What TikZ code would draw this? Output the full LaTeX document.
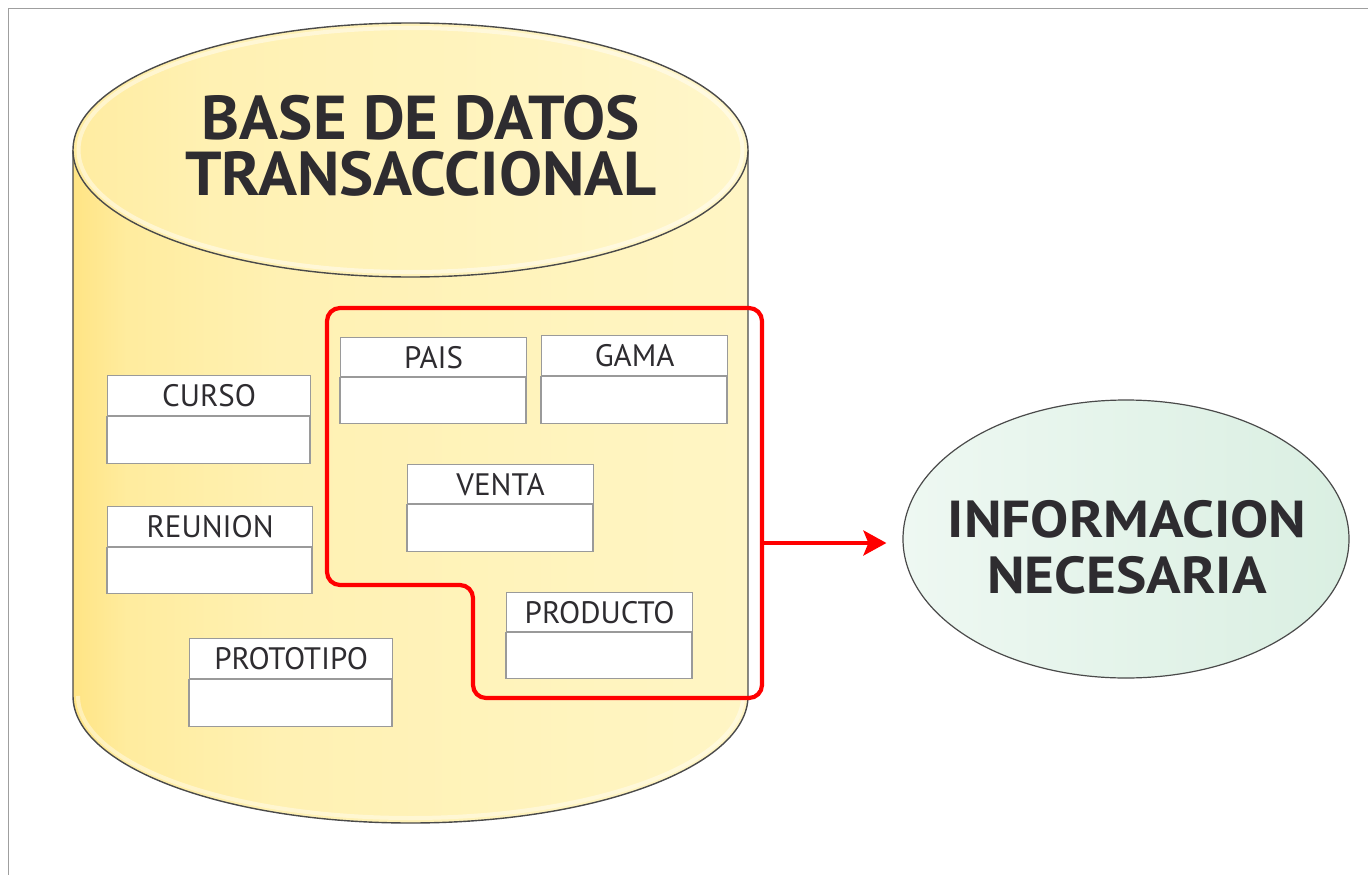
\documentclass[tikz,border=0pt]{standalone}
\usepackage{fontspec}
\setmainfont{PT Sans}
\usetikzlibrary{shapes.geometric,arrows.meta}
\definecolor{txt}{HTML}{2E2C30}
\definecolor{boxln}{HTML}{9A9A9A}
\definecolor{cylline}{HTML}{4A4A4A}
\definecolor{infoL}{HTML}{EEF8F2}
\definecolor{infoR}{HTML}{DAEFE2}
\pgfdeclarehorizontalshading{cylsh}{100bp}{
  rgb(0bp)=(1,0.895,0.52); rgb(25bp)=(1,0.895,0.52); rgb(29bp)=(1,0.925,0.62);
  rgb(40bp)=(1,0.945,0.70); rgb(75bp)=(1,0.962,0.77); rgb(100bp)=(1,0.962,0.77)}
\pgfdeclarehorizontalshading{topsh}{100bp}{
  rgb(0bp)=(1,0.925,0.63); rgb(25bp)=(1,0.925,0.63); rgb(35bp)=(1,0.945,0.70);
  rgb(75bp)=(1,0.965,0.79); rgb(100bp)=(1,0.965,0.79)}
\tikzset{
  hdr/.style={draw=boxln, line width=1.3pt, fill=white, anchor=north west, inner sep=0pt,
    minimum height=40pt, text=txt, font=\fontsize{31}{34}\selectfont},
  bodybox/.style={draw=boxln, line width=1.3pt, fill=white},
  redline/.style={draw=red, line width=4.2pt},
}
\begin{document}
\begin{tikzpicture}[x=1pt,y=-1pt]
\useasboundingbox (0,0) rectangle (1368,875);
\fill[white] (0,0) rectangle (1368,875);
\draw[gray!75, line width=1.6pt] (8.5,875) -- (8.5,8.5) -- (1368,8.5);
% cylinder body
\shade[shading=cylsh]
  (73,150) -- (73,696) arc[start angle=180, end angle=360, x radius=337.5pt, y radius=127pt] -- (748,150) -- cycle;
\draw[white, opacity=0.4, line width=4pt]
  (78,696) arc[start angle=180, end angle=360, x radius=332.5pt, y radius=122pt];
\draw[cylline, line width=1.4pt]
  (73,150) -- (73,696) arc[start angle=180, end angle=360, x radius=337.5pt, y radius=127pt] -- (748,150);
% top ellipse
\shade[shading=topsh] (410.5,150) ellipse [x radius=337.5pt, y radius=127pt];
\draw[white, opacity=0.45, line width=4pt] (410.5,150) ellipse [x radius=332pt, y radius=122pt];
\draw[cylline, line width=1.4pt] (410.5,150) ellipse [x radius=337.5pt, y radius=127pt];
\node[text=txt, font=\bfseries\fontsize{62}{56}\selectfont, align=center] (title) at (421,146)
  {\scalebox{1.04}[1]{BASE DE DATOS}\\\scalebox{1.04}[1]{TRANSACCIONAL}};
% red selection
\draw[redline, rounded corners=13pt] (500,308) -- (762,308) -- (762,698) -- (473,698) -- (473,585)
  -- (327,585) -- (327,308) -- cycle;
% tables
\node[hdr, minimum width=203pt] (curso) at (107,375) {CURSO};
\draw[bodybox] (curso.south west) rectangle ++(203,47);
\node[hdr, minimum width=205pt] (reunion) at (107,506) {REUNION};
\draw[bodybox] (reunion.south west) rectangle ++(205,46);
\node[hdr, minimum width=203pt] (prototipo) at (189,638) {PROTOTIPO};
\draw[bodybox] (prototipo.south west) rectangle ++(203,47);
\node[hdr, minimum width=186pt, minimum height=39pt] (pais) at (340,337) {PAIS};
\draw[bodybox] (pais.south west) rectangle ++(186,46);
\node[hdr, minimum width=186pt] (gama) at (541,335) {GAMA};
\draw[bodybox] (gama.south west) rectangle ++(186,47);
\node[hdr, minimum width=186pt, minimum height=39pt] (venta) at (407,464) {VENTA};
\draw[bodybox] (venta.south west) rectangle ++(186,47);
\node[hdr, minimum width=186pt, minimum height=39pt] (producto) at (506,592) {PRODUCTO};
\draw[bodybox] (producto.south west) rectangle ++(186,46);
% info ellipse
\node[ellipse, draw=cylline, line width=1.2pt, minimum width=446pt, minimum height=278pt,
  left color=infoL, right color=infoR, inner sep=0pt] (info) at (1126,539) {};
\node[text=txt, align=center, font=\bfseries\fontsize{52}{56}\selectfont] (infotext) at (1127,547)
  {\scalebox{1.1}[1]{INFORMACION}\\\scalebox{1.1}[1]{NECESARIA}};
% arrow
\coordinate (redR) at (762,543);
\draw[red, line width=3.8pt, -{Stealth[length=23pt, width=25pt, inset=5pt]}, shorten >=16pt]
  (redR) -- (redR -| info.west);
\end{tikzpicture}
\end{document}
